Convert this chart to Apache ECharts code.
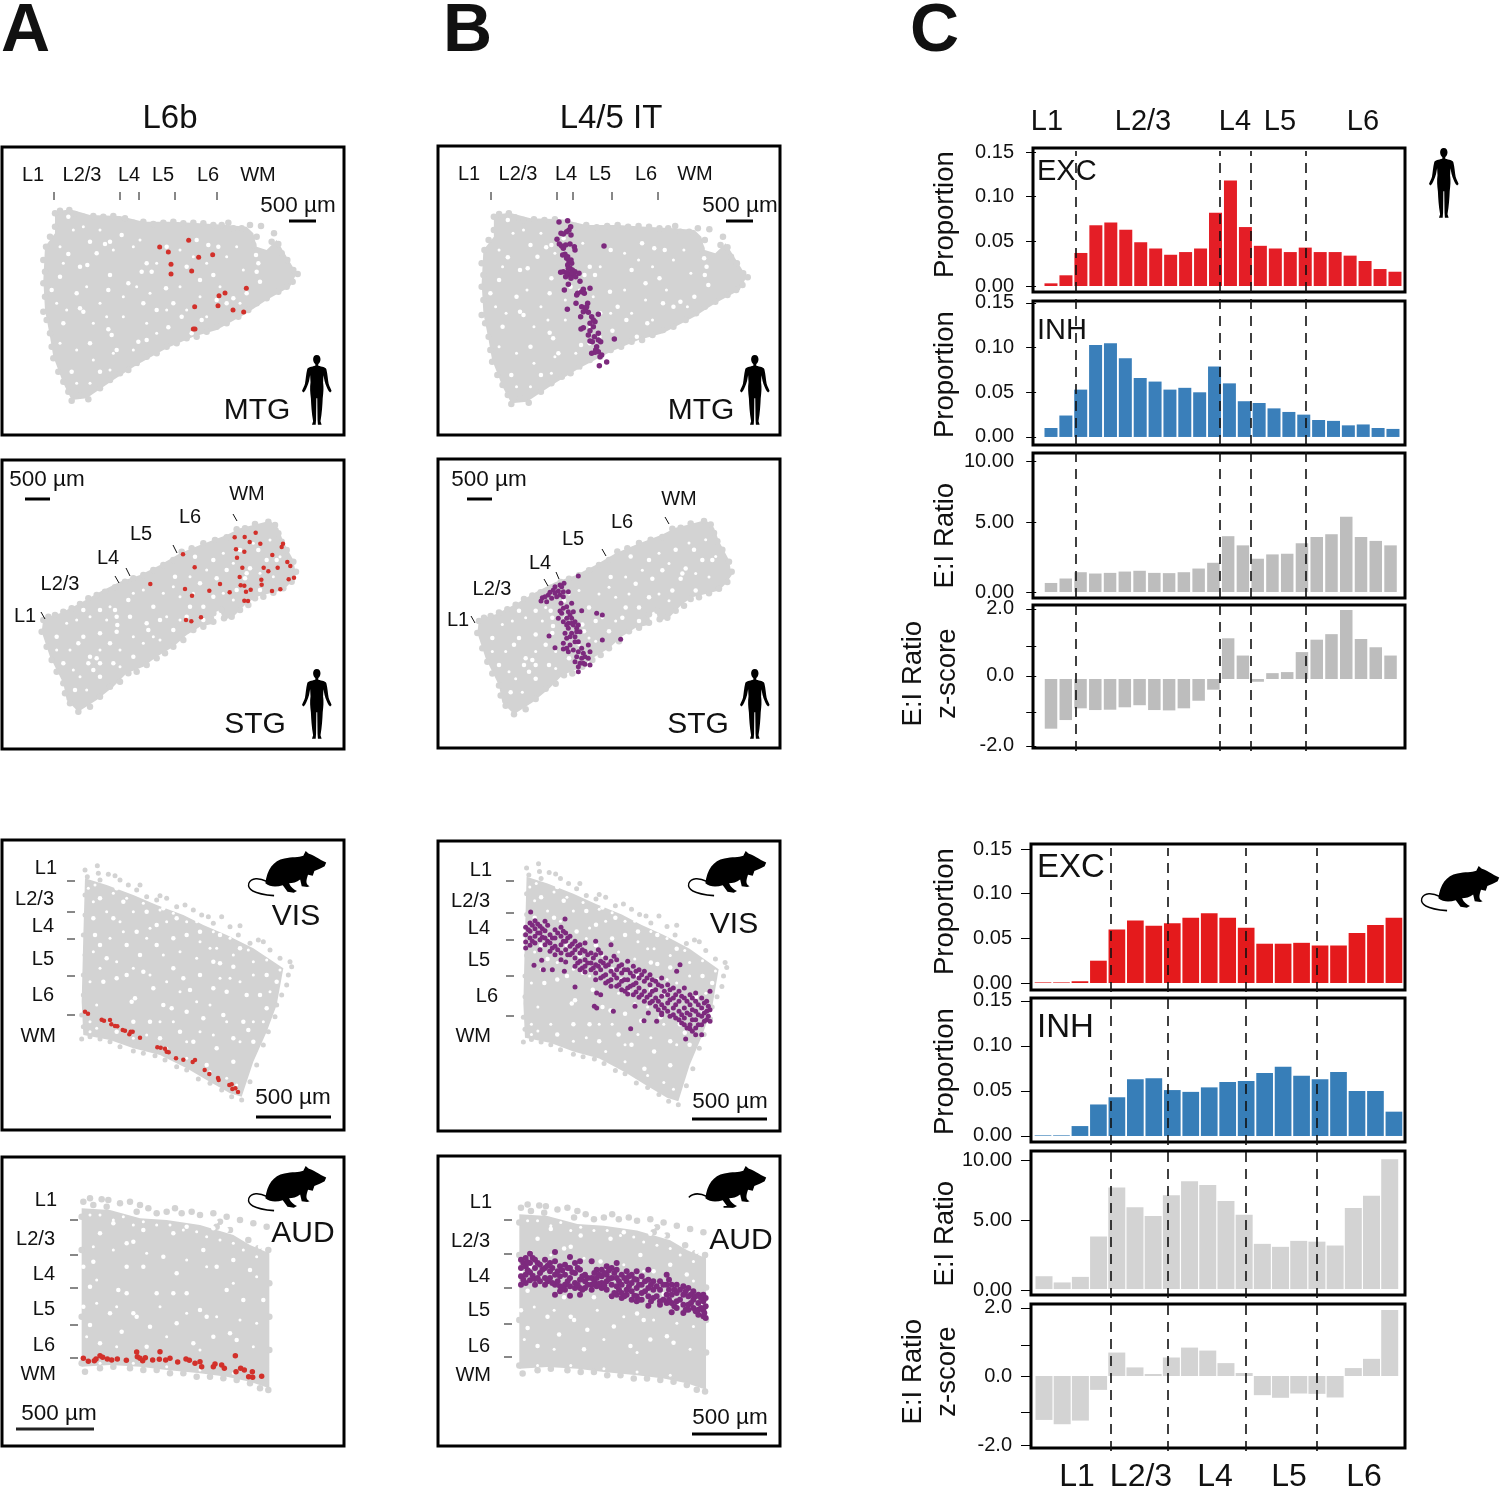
<!DOCTYPE html>
<html><head><meta charset="utf-8">
<style>html,body{margin:0;padding:0;background:#fff}#c{width:1500px;height:1487px}</style>
<script src="https://cdn.jsdelivr.net/npm/echarts@6/dist/echarts.min.js"></script>
</head><body><div id="c"></div>
<script>
// ---------- bar values ----------
const humanExc=[.003,.012,.037,.068,.071,.063,.049,.042,.035,.038,.042,.082,.118,.066,.045,.042,.038,.043,.038,.038,.034,.028,.019,.016];
const humanInh=[.010,.024,.053,.103,.105,.088,.066,.062,.053,.055,.050,.079,.060,.040,.038,.032,.028,.025,.019,.018,.013,.014,.010,.009];
const humanRatio=[.69,1.03,1.51,1.41,1.46,1.56,1.62,1.46,1.44,1.51,1.79,2.23,4.26,3.56,2.54,2.87,2.92,3.72,4.2,4.41,5.74,4.2,3.9,3.56];
const humanZ=[-1.44,-1.19,-.85,-.90,-.89,-.82,-.76,-.90,-.91,-.85,-.63,-.31,1.18,.68,-.08,.17,.20,.78,1.14,1.30,2.0,1.16,.92,.68];
const mouseExc=[.0007,.0007,.002,.025,.060,.070,.064,.067,.073,.078,.073,.062,.044,.044,.045,.042,.042,.056,.065,.073];
const mouseInh=[.0007,.0007,.011,.035,.043,.063,.064,.051,.049,.054,.060,.061,.070,.077,.067,.063,.071,.050,.050,.027];
const mouseRatio=[.99,.51,.94,4.05,7.84,6.31,5.65,7.25,8.32,8.04,6.79,5.73,3.49,3.26,3.72,3.66,3.36,6.26,7.2,10.03];
const mouseZ=[-1.33,-1.46,-1.35,-.42,.71,.26,.06,.56,.86,.77,.39,.09,-.58,-.66,-.53,-.54,-.65,.24,.52,2.0];
const humanBoundaries=[2.67,12.30,14.37,18.05];
const mouseBoundaries=[4.68,7.77,11.99,15.84];
// ---------- tick labels ----------
const propTicks=[0,.05,.1,.15];
const humanRatioTicks=[0,5.3,10], mouseRatioTicks=[-.08,5.33,9.96], ratioLabels=['0.00','5.00','10.00'];
const humanZTicks=[2.03,.96,.09,-.96,-1.94], mouseZTicks=[2.06,.94,0,-1.09,-2.09], zLabels=['2.0','','0.0','','-2.0'];
const layerNames=['L1','L2/3','L4','L5','L6','WM'];
const topLayers=['L1','L2/3','L4','L5','L6'];
// ---------- tissue shapes ----------
const mtgOutline=[165,365,210,358,270,375,360,378,430,395,520,395,600,400,680,405,740,410,760,430,770,470,800,480,830,450,860,500,890,550,870,590,800,630,740,670,650,720,580,740,500,775,410,825,340,870,260,925,215,930,190,880,160,800,150,740,135,660,130,570,135,470,165,430];
const mtgEdge=[165,370,180,362,208,360,225,372,250,380,280,378,310,380,340,378,375,385,400,398,430,395,460,402,490,398,520,395,550,400,580,398,610,400,640,405,665,405,685,398,700,415,725,415,750,405,783,408,770,440,760,465,822,430,815,455,835,462,845,490,862,510,880,540,893,552,878,575,860,590,835,605,800,625,770,640,745,660,715,680,680,700,650,710,620,725,590,740,560,745,530,760,500,770,470,790,440,800,410,820,385,840,360,850,330,870,300,895,265,928,240,915,215,932,205,905,190,875,175,845,160,805,155,770,150,730,140,690,130,665,135,620,130,580,135,545,130,510,138,470,150,440,165,410];
const mtgGaps=[775,520,770,545,780,575,768,495,270,455,315,462,330,455,205,492,262,525,240,530,155,600,240,655,250,665,325,718,335,735,365,435,440,520,455,545,425,545,498,595,640,555,655,470,625,465,415,755,440,750,505,712,575,730,605,690,330,555,325,600,385,580,215,845,300,845,410,835,545,680,470,660,700,625,680,640,600,570,560,530,230,610,190,700,270,760,350,780,180,560,430,640,520,640,740,610,650,630,290,490,500,470,590,450,205,380];
const mtgSpecks=[220,420,300,420,250,410,180,470,340,480,400,470,420,450,470,520,540,480,580,500,620,520,680,500,710,470,730,540,190,520,260,590,300,640,370,620,410,590,450,610,540,590,600,620,660,590,720,640,170,640,200,660,280,700,320,680,370,680,440,700,500,660,560,660,620,680,180,760,230,780,280,810,340,790,400,780,470,730,230,880,270,880,330,840];
const stgOutline=[130,505,180,490,240,460,300,425,360,395,420,375,480,345,540,310,600,285,680,255,720,235,760,225,810,212,835,235,850,275,880,330,888,375,870,400,850,420,810,430,770,440,740,460,700,500,670,510,660,480,640,490,645,520,600,530,560,555,520,590,470,620,430,650,380,670,340,710,290,750,235,785,200,750,190,700,170,660,150,620,125,545];
const stgEdge=[130,510,145,500,165,495,190,485,215,475,240,462,265,445,290,435,315,425,345,412,375,395,400,385,430,375,460,360,490,345,520,330,545,305,575,295,610,280,645,270,680,262,710,238,735,235,765,222,805,215,825,225,835,250,845,275,860,300,880,335,888,365,875,395,850,415,820,428,790,440,765,445,745,465,720,480,695,500,672,505,665,480,640,490,640,515,610,530,580,540,550,570,520,590,495,610,470,625,440,645,410,665,385,670,360,695,330,710,300,740,270,770,235,785,210,760,195,730,190,700,170,665,155,630,140,590,125,545];
const stgGaps=[350,500,352,525,345,480,350,545,270,620,265,640,290,625,330,580,300,480,250,480,235,580,300,550,445,540,440,520,520,540,525,380,585,320,640,330,600,400,650,385,680,360,740,370,735,385,750,355,775,300,710,420,640,440,610,470,570,470,300,680,340,640,400,620,190,640,460,470,480,510,720,300,800,330,830,330,780,420,610,510,560,500,250,560,225,720,170,560,390,500,385,450,300,640,280,660];
const stgSpecks=[200,520,230,510,270,500,320,510,170,600,210,600,300,600,360,600,400,560,460,560,500,500,540,440,490,430,520,410,570,380,620,360,670,310,700,340,760,280,810,270,840,320,780,370,820,380,700,450,670,430,580,430,540,510,480,570,430,580,360,650,240,680,260,720,220,660,330,470,400,430,430,420];
const visOutline=[255,130,320,150,400,180,470,210,550,240,610,270,680,300,760,340,850,400,830,510,800,590,760,680,725,785,690,775,620,735,560,700,480,660,400,640,330,615,250,600,245,500,250,300];
const visEdge=[255,105,262,125,292,92,295,115,300,135,325,118,345,122,360,135,385,150,420,150,410,165,440,185,480,182,500,190,470,195,530,215,555,210,580,225,605,240,625,245,665,245,640,265,690,275,720,272,715,300,750,325,775,315,790,320,810,345,840,370,870,380,875,395,865,420,860,450,845,480,830,510,825,545,805,590,790,630,770,690,750,740,725,795,695,785,665,765,630,745,595,732,560,705,530,695,495,675,465,662,430,655,400,648,360,635,330,620,300,612,270,605,245,612,250,575,245,540,250,480,250,420,255,360,250,300,255,240,255,180];
const visGaps=[340,250,410,290,470,270,490,220,530,250,320,370,430,410,350,430,310,440,405,490,395,500,490,510,515,520,450,560,570,465,680,470,730,560,745,585,640,380,660,385,700,395,560,300,470,330,380,330,285,300,520,310,600,420,780,480,640,460,610,550,700,610,650,640,540,590,580,620,620,690,700,680,760,620,800,420,830,440,720,340,660,300,600,290,440,230,370,200,300,190,350,160,280,250,300,330,380,420,460,460,550,430,520,400,670,540,740,480,800,520,400,560,350,590,480,610,560,530,420,360];
const visSpecks=[280,200,320,230,360,260,400,230,450,280,500,260,560,260,600,320,650,340,700,360,760,380,810,470,790,560,760,560,720,620,680,560,640,600,600,590,560,620,520,560,480,560,440,600,400,610,330,560,290,510,270,440,300,400,350,380,400,400,450,420,500,440,540,470,590,500,630,510,660,430,720,440,760,420,280,350,330,310,370,290,440,310,490,360,540,350,590,370,630,340,690,430,500,640,560,670,630,710,680,730,710,750,270,560,270,590,290,580,265,160,285,150,340,175,380,190,430,205,480,225,520,235,590,260,640,290,690,310,745,345,800,375,840,405];
const audOutline=[245,175,330,180,420,205,500,210,600,225,700,255,750,285,808,310,808,715,750,695,680,680,600,670,500,660,420,650,330,645,245,650];
const audEdge=[250,155,270,145,280,165,305,148,325,150,320,170,360,160,390,155,420,165,410,185,445,175,470,190,500,185,525,175,545,190,575,185,600,195,640,190,680,200,720,210,760,220,800,230,660,215,690,240,650,230,745,270,775,295,805,300,808,400,808,500,808,600,805,720,780,715,750,700,710,690,670,685,630,680,590,680,550,670,510,670,470,660,430,660,390,655,340,650,300,655,255,665,245,640,245,500,245,300,245,200];
const audGaps=[380,280,400,275,490,320,380,350,280,335,250,350,270,410,355,420,380,430,430,350,470,430,520,430,560,430,650,350,680,420,730,450,400,490,410,500,270,525,365,545,450,530,530,520,690,550,710,570,640,560,580,580,300,580,440,590,610,300,520,250,560,230,640,235,680,240,780,290,600,480,750,360,300,250,340,220,430,240,790,450,250,470,330,490,700,330,530,370,620,500];
const audSpecks=[270,195,300,195,340,210,370,200,400,225,430,215,470,225,510,225,550,240,590,245,620,260,660,270,700,280,730,300,770,320,650,215,670,225,690,225,710,235,280,290,340,300,440,310,560,330,620,350,700,400,770,380,290,460,350,470,480,470,560,490,650,500,720,510,770,520,260,560,350,590,500,560,600,600,760,590,300,640,400,640,500,650,600,660,700,670,290,390];
// ---------- labelled cells ----------
const mtgL6b=[479,471,505,486,566,451,638,494,596,502,513,523,513,552,575,543,739,595,675,609,657,617,654,647,584,650,699,660,731,666,580,717,585,717];
const stgL6b=[549,313,584,352,451,402,555,417,576,437,628,422,660,402,689,427,558,510,574,514,603,502,704,262,734,261,767,248,749,276,781,281,849,281,845,291,708,298,733,305,817,315,711,323,862,336,871,348,727,353,791,353,833,353,805,364,719,381,882,383,866,388,784,389,785,404,722,406,733,407,752,419,738,425,816,423,841,418,733,452,744,453];
const visL6b=[255,530,264,536,305,554,312,557,330,555,334,568,345,573,352,574,368,585,375,587,392,590,388,598,398,590,420,608,472,637,482,638,495,641,500,650,506,652,528,670,550,674,578,681,585,675,614,705,628,717,654,729,656,735,688,750,695,748,697,762,706,760,714,771];
const audL6b=[250,625,265,634,283,632,288,627,300,617,308,622,322,627,335,630,352,627,379,631,410,606,412,620,420,625,428,632,436,623,458,630,478,628,480,605,497,630,510,625,533,636,558,627,568,631,585,640,600,635,605,650,640,650,645,642,665,645,673,655,706,617,708,665,722,655,733,660,746,680,757,665,758,682,785,679];
const mtgIT=[372,246,398,242,407,260,402,270,395,275,378,280,385,282,408,285,366,298,373,312,380,318,392,315,405,312,418,320,420,330,385,325,390,343,383,345,395,355,402,365,398,375,410,370,405,385,412,390,420,395,432,400,415,405,400,405,377,397,392,410,408,415,435,424,400,433,388,450,445,448,465,445,440,455,428,460,425,465,423,490,440,500,458,490,452,505,397,508,460,517,490,523,437,530,470,530,480,545,465,550,445,563,438,567,465,572,490,580,478,590,497,605,465,603,538,597,485,620,490,635,470,640,480,637,495,650,515,666,493,677,507,318,398,350,408,360,400,385,408,400,422,410,385,395,395,398,448,460,455,500,445,515,475,540,475,560,460,585,472,605,490,600,482,630,500,645];
const stgIT=[430,363,387,385,375,390,360,395,355,405,370,408,385,410,400,410,340,420,322,428,318,438,335,440,350,430,365,425,385,425,378,445,385,460,400,470,415,470,380,475,370,490,395,490,410,490,440,467,485,475,502,480,385,500,400,505,415,510,400,520,425,520,390,535,410,535,435,530,342,543,395,550,420,545,385,565,405,570,430,560,460,570,502,555,557,553,360,578,395,580,415,585,430,590,445,595,465,590,425,605,440,610,460,610,420,620,435,625,450,628,465,630,430,650,385,582,410,445,395,455,405,480,375,468,420,500,430,510,405,545,420,560,400,590,440,580,450,605,445,625,430,635,380,395,345,412,330,425,360,415,375,420,425,530,410,505,395,510];
const visITColumns=[[272,[268,290,312,330]],[285,[255,280,300,322]],[300,[248,272,295,315]],[315,[265,285,305,335]],[330,[250,278,300,320]],[345,[290,315,340]],[360,[275,300,325,350]],[378,[268,295,320,345,365]],[392,[285,310,335,372]],[405,[295,325,350]],[420,[310,335,360,385]],[435,[320,345,370,395]],[450,[315,340,365,385,402]],[468,[345,375,395]],[482,[310,350,380,405,425]],[497,[345,370,395,420]],[512,[360,385,410,435]],[528,[320,370,400,425,445]],[545,[365,395,420,445]],[560,[380,405,430,455]],[578,[370,395,425,450,468]],[595,[385,415,440,470]],[612,[395,420,450,478]],[628,[400,430,460,490]],[645,[410,440,470,495]],[662,[430,455,480,505]],[680,[420,445,475,500,525]],[698,[440,470,495,520]],[715,[450,480,510,530]],[732,[460,490,520,545]],[748,[450,480,510,540,560]],[765,[470,500,530,560,572]],[782,[465,490,520,545,570]],[800,[480,510,535,560,590]],[815,[490,520,545]],[825,[460,515,550]]];
const visITStray=[287,222,390,243,297,382,320,367,325,395,352,395,388,400,420,447,485,465,497,470,478,505,485,510,535,520,627,548,665,550,587,572,752,603,735,380,725,400,600,505,640,525,680,530,782,590];
const visITMore=[280,275,292,262,292,310,308,285,308,258,322,272,322,298,338,262,338,310,352,300,352,330,368,285,368,335,385,280,385,310,398,300,398,350,412,318,412,345,428,325,428,375,442,335,442,390,458,350,458,375,475,360,475,390,490,335,490,385,505,375,505,415,520,380,520,430,537,355,537,410,552,385,552,440,568,395,568,425,570,460,586,405,586,445,603,400,603,435,603,462,620,410,620,470,636,420,636,478,652,425,652,460,652,490,670,440,670,490,670,515,688,460,688,510,705,455,705,485,705,535,722,470,722,500,722,540,740,475,740,530,740,555,756,490,756,525,756,570,772,480,772,515,772,545,772,580,790,500,790,530,790,560,808,495,808,525,808,550,820,505,820,535];
const audITColumns=[[258,[320,345,370,395]],[272,[315,340,365,390]],[285,[302,330,358,382]],[300,[320,345,378,395]],[315,[335,360,385]],[330,[320,345,375,395]],[345,[330,355,375]],[360,[297,325,365,395,425]],[375,[340,370,400,415]],[390,[335,365,395,410]],[405,[312,345,375,400,428]],[420,[330,360,390,405]],[435,[325,350,380,405,425]],[450,[365,385,405]],[470,[325,375,395,410]],[485,[350,375,400]],[500,[350,370,390,405]],[515,[340,365,385,410]],[530,[345,375,395,430]],[545,[330,350,375,400,425]],[560,[365,395,420,435]],[575,[355,385,410,425]],[590,[365,390,415,440]],[605,[355,380,405,430,445]],[620,[370,395,420,440]],[640,[350,380,405,430,458]],[655,[385,410,435]],[675,[385,410,445,455]],[695,[365,395,425,450]],[710,[395,425,450,478]],[725,[395,420,445,465]],[745,[400,425,455,480]],[760,[405,430,455,470]],[775,[415,440,465]],[790,[425,450,470,485]],[805,[425,445,470,490]],[812,[435,460,495]]];
const audITMore=[265,330,265,380,278,328,278,352,293,315,293,368,308,330,308,375,322,350,338,338,338,385,352,345,352,390,368,355,368,385,382,352,382,405,398,345,398,385,412,358,428,345,428,395,442,370,442,410,458,375,458,395,478,360,478,388,492,365,492,392,508,360,508,398,522,352,522,378,538,360,538,420,552,385,552,410,568,375,568,430,582,370,582,400,598,378,598,428,612,395,612,440,630,385,630,415,648,395,648,445,665,400,665,430,685,395,685,440,702,380,702,410,702,440,718,410,718,460,735,410,735,440,752,415,752,470,768,425,768,450,782,430,782,475,798,435,798,465,808,480];

const FONT='"Liberation Sans",Arial,sans-serif';
const GRAY='#d3d3d3',RED='#d2302a',PURPLE='#7d2a7e';
const pairs=a=>{const o=[];for(let i=0;i<a.length;i+=2)o.push([a[i],a[i+1]]);return o};
const cols=c=>c.flatMap(([x,ys])=>ys.map(y=>[x,y]));
const grids=[],xAxes=[],yAxes=[],series=[],graphics=[];

function addGrid(box,xr,yr,frame,inverse){
  const i=grids.length;
  grids.push({left:box[0],top:box[1],width:box[2]-box[0],height:box[3]-box[1],show:frame,borderWidth:3,borderColor:'#000',backgroundColor:'transparent',containLabel:false});
  xAxes.push({gridIndex:i,type:'value',min:xr[0],max:xr[1],show:false});
  yAxes.push({gridIndex:i,type:'value',min:yr[0],max:yr[1],inverse:!!inverse,show:false});
  return i;
}
function dots(i,data,size,color,z){
  series.push({type:'scatter',xAxisIndex:i,yAxisIndex:i,data,symbolSize:size,itemStyle:{color,opacity:1},silent:true,z});
}
function tissue(i,shape,size){
  const o=pairs(shape.outline);
  series.push({type:'custom',coordinateSystem:'cartesian2d',xAxisIndex:i,yAxisIndex:i,data:o,encode:{x:0,y:1},silent:true,z:2,
    renderItem:(p,api)=>{if(p.dataIndex!==0)return;return {type:'polygon',shape:{points:o.map(q=>api.coord(q))},style:{fill:GRAY}}}});
  dots(i,pairs(shape.edge),size,GRAY,3);
  dots(i,pairs(shape.gaps),4.5,'#fff',4);
  dots(i,pairs(shape.specks),3,'#fff',4);
}
const cells=(i,data,color,size)=>dots(i,data,size,color,6);
const MTG={outline:mtgOutline,edge:mtgEdge,gaps:mtgGaps,specks:mtgSpecks};
const STG={outline:stgOutline,edge:stgEdge,gaps:stgGaps,specks:stgSpecks};
const VIS={outline:visOutline,edge:visEdge,gaps:visGaps,specks:visSpecks};
const AUD={outline:audOutline,edge:audEdge,gaps:audGaps,specks:audSpecks};

// column A
tissue(addGrid([2,147,344,435],[6,1032],[171,1035],true,true),MTG,6.5); cells(grids.length-1,pairs(mtgL6b),RED,5);
tissue(addGrid([2,460,344,749],[6,1032],[30,897],true,true),STG,6.5); cells(grids.length-1,pairs(stgL6b),RED,4.5);
tissue(addGrid([2,840,344,1130],[6,1032],[15,885],true,true),VIS,5); cells(grids.length-1,pairs(visL6b),RED,4.5);
tissue(addGrid([2,1157,344,1446],[6,1032],[21,888],true,true),AUD,6.5); cells(grids.length-1,pairs(audL6b),RED,5.5);
// column B: the same sections, slightly rescaled
tissue(addGrid([438,146,780,435],[4.8,985.6],[158,1025],true,true),MTG,6.5);
cells(addGrid([438,146,780,435],[9,1035],[18,885],false,true),pairs(mtgIT),PURPLE,5.5);
tissue(addGrid([438,459,780,748],[7,1033],[32,884.6],true,true),STG,6.5);
cells(addGrid([438,459,780,748],[9,1035],[12,879],false,true),pairs(stgIT),PURPLE,5);
tissue(addGrid([438,841,780,1131],[-19.4,1040],[26,871.6],true,true),VIS,5);
cells(addGrid([438,841,780,1131],[9,1035],[9,879],false,true),cols(visITColumns).concat(pairs(visITStray),pairs(visITMore)),PURPLE,5);
tissue(addGrid([438,1156,780,1446],[-.2,1031],[-4.6,887.7],true,true),AUD,6.5);
cells(addGrid([438,1156,780,1446],[9,1035],[9,879],false,true),cols(audITColumns).concat(pairs(audITMore)),PURPLE,6);

// column C
function barPanel(left,right,top,bottom,xr,yr,vals,color,w,ticks,labelTicks,fmt){
  const i=grids.length;
  grids.push({left,top,width:right-left,height:bottom-top,show:true,borderWidth:3,borderColor:'#000',backgroundColor:'transparent',containLabel:false});
  xAxes.push({gridIndex:i,type:'value',min:xr[0],max:xr[1],show:false});
  yAxes.push({gridIndex:i,type:'value',min:yr[0],max:yr[1],splitLine:{show:false},axisLine:{show:false},
    axisTick:{show:true,length:10,lineStyle:{color:'#000',width:1},customValues:ticks},
    axisLabel:{margin:19,fontSize:20,fontFamily:FONT,color:'#111',customValues:labelTicks,hideOverlap:false,formatter:fmt}});
  series.push({type:'bar',xAxisIndex:i,yAxisIndex:i,data:vals.map((v,k)=>[k+1,v]),barWidth:w,itemStyle:{color},silent:true,z:3});
}
const fp=v=>v.toFixed(2);
const fr=t=>v=>ratioLabels[t.indexOf(v)];
const fz=t=>v=>zLabels[t.indexOf(v)];
const zShown=t=>[t[0],t[2],t[4]];
barPanel(1033,1405,148,292,[-.203,24.67],[-.0067,.1545],humanExc,'#e41e26',13,propTicks,propTicks,fp);
barPanel(1033,1405,301,445,[-.21,24.81],[-.009,.1522],humanInh,'#3a7fba',13,propTicks,propTicks,fp);
barPanel(1033,1405,453,598,[-.22,24.98],[-.458,10.61],humanRatio,'#bdbdbd',12.5,humanRatioTicks,humanRatioTicks,fr(humanRatioTicks));
barPanel(1033,1405,605,748,[-.22,24.98],[-2,2.145],humanZ,'#bdbdbd',12.5,humanZTicks,zShown(humanZTicks),fz(humanZTicks));
barPanel(1031,1405,844,990,[.35,20.6],[-.0078,.1556],mouseExc,'#e41a1c',16.7,propTicks,propTicks,fp);
barPanel(1031,1405,998,1142,[.35,20.6],[-.0067,.1533],mouseInh,'#377eb8',16.7,propTicks,propTicks,fp);
barPanel(1031,1405,1151,1295,[.286,20.84],[-.46,10.66],mouseRatio,'#d3d3d3',17,mouseRatioTicks,mouseRatioTicks,fr(mouseRatioTicks));
barPanel(1031,1405,1304,1448,[.286,20.84],[-2.18,2.18],mouseZ,'#d3d3d3',17,mouseZTicks,zShown(mouseZTicks),fz(mouseZTicks));
function dashes(left,right,top,bottom,xr,vals){
  const i=addGrid([left,top,right,bottom],xr,[0,1],false);
  series.push({type:'scatter',xAxisIndex:i,yAxisIndex:i,data:[],silent:true,z:8,
    markLine:{silent:true,symbol:'none',animation:false,label:{show:false},lineStyle:{color:'#111',width:1.6,type:[10,7]},data:vals.map(v=>({xAxis:v}))}});
}
dashes(1033,1405,151,751,[-.203,24.67],humanBoundaries);
dashes(1031,1405,848,1451,[.35,20.6],mouseBoundaries);

// ---------- text, ticks, scale bars ----------
function T(x,y,text,size,o={}){
  graphics.push({type:'text',x,y:y+size*.06,z:50,silent:true,rotation:o.rot||0,style:{text,fontSize:size,fontFamily:FONT,fontWeight:o.bold?'bold':'normal',fill:o.fill||'#111',textAlign:o.align||'center',textVerticalAlign:'middle'}});
}
function L(x1,y1,x2,y2,w,c){
  graphics.push({type:'line',z:50,silent:true,shape:{x1,y1,x2,y2},style:{stroke:c||'#111',lineWidth:w||1}});
}
T(1,28,'A',68,{bold:true,align:'left'});T(443,28,'B',68,{bold:true,align:'left'});T(910,28,'C',68,{bold:true,align:'left'});
T(170,117,'L6b',33);T(611,117,'L4/5 IT',33);
// A1
[33,82,129,163,208,258].forEach((x,i)=>T(x,174,layerNames[i],20));
[54,120,139,175,217].forEach(x=>L(x,192,x,200,1));
T(298,204,'500 µm',22.5);L(289,221,316,221,3,'#000');T(257,409,'MTG',30);
// B1
[469,518,566,600,646,695].forEach((x,i)=>T(x,173,layerNames[i],20));
[491,557,573,612,658].forEach(x=>L(x,192,x,200,1));
T(740,204,'500 µm',22.5);L(726,221,753,221,3,'#000');T(701,409,'MTG',30);
// A2
[[25,615],[60,583],[108,557],[141,533],[190,516],[247,493]].forEach((p,i)=>T(p[0],p[1],layerNames[i],20));
[[41,612,45,619],[115,576,119,583],[126,568,130,576],[173,545,177,553],[233,514,237,521]].forEach(s=>L(s[0],s[1],s[2],s[3],1));
T(47,478,'500 µm',22.5);L(25,499,50,499,3,'#000');T(255,723,'STG',30);
// B2
[[458,619],[492,588],[540,562],[573,538],[622,521],[679,498]].forEach((p,i)=>T(p[0],p[1],layerNames[i],20));
[[471,616,475,623],[544,579,548,586],[556,572,559,579],[602,549,606,556],[665,517,669,524]].forEach(s=>L(s[0],s[1],s[2],s[3],1));
T(489,478,'500 µm',22.5);L(467,499,492,499,3,'#000');T(698,723,'STG',30);
// A3
[[57,867],[54,898],[54,925],[54,958],[54,994],[56,1035]].forEach((p,i)=>T(p[0],p[1],layerNames[i],20,{align:'right'}));
[881,912,939,976,1015].forEach(y=>L(67,y,75,y,1));
T(293,1096,'500 µm',22.5);L(256,1117,331,1117,3,'#000');T(296,915,'VIS',30);
// B3
[[492,869],[490,900],[490,927],[490,959],[498,995],[491,1035]].forEach((p,i)=>T(p[0],p[1],layerNames[i],20,{align:'right'}));
[881,913,940,976,1016].forEach(y=>L(506,y,514,y,1));
T(730,1100,'500 µm',22.5);L(692,1119,767,1119,3,'#000');T(734,923,'VIS',30);
// A4
[[57,1199],[55,1238],[55,1273],[55,1308],[55,1344],[56,1373]].forEach((p,i)=>T(p[0],p[1],layerNames[i],20,{align:'right'}));
[1220,1255,1288,1325,1358].forEach(y=>L(70,y,78,y,1));
T(59,1412,'500 µm',22.5);L(16,1429,94,1429,3,'#222');T(303,1232,'AUD',30);
// B4
[[492,1201],[490,1240],[490,1275],[490,1309],[490,1345],[491,1374]].forEach((p,i)=>T(p[0],p[1],layerNames[i],20,{align:'right'}));
[1220,1254,1288,1324,1357].forEach(y=>L(504,y,512,y,1));
T(730,1416,'500 µm',22.5);L(692,1434,767,1434,3,'#000');T(741,1239,'AUD',30);
// C
[1047,1143,1235,1280,1363].forEach((x,i)=>T(x,120,topLayers[i],29));
[1077,1141,1215,1289,1364].forEach((x,i)=>T(x,1475,topLayers[i],32));
T(1037,170,'EXC',29,{align:'left'});T(1037,329,'INH',29,{align:'left'});
T(1037,866,'EXC',33,{align:'left'});T(1037,1026,'INH',33,{align:'left'});
const R=Math.PI/2;
[[945,213],[945,373],[945,910],[945,1070]].forEach(p=>T(p[0],p[1],'Proportion',27.5,{rot:R}));
[[945,534],[945,1232],[913,672],[913,1370]].forEach(p=>T(p[0],p[1],'E:I Ratio',27.5,{rot:R}));
[[947,672],[947,1370]].forEach(p=>T(p[0],p[1],'z-score',27.5,{rot:R}));

// ---------- silhouettes ----------
const humanPath='M20 0C23.5 0 25 3 25 6C25 9.5 23 12 22 12.5L22 15C27 16.5 32 16.5 33 20C34.5 26 35 34 36 40C37 44 39 47 40 50L38 52L36 50C34 46 32 42 30.5 36L29 28L28.5 38C29.5 46 29 52 28 60C27.5 70 27 80 25 92L26.5 97L21.5 97L21 90L20.6 60L19.4 60L19 90L18.5 97L13.5 97L15 92C13 80 12.5 70 12 60C11 52 10.5 46 11.5 38L11 28L9.5 36C8 42 6 46 4 50L2 52L0 50C1 47 3 44 4 40C5 34 5.5 26 7 20C8 16.5 13 16.5 18 15L18 12.5C17 12 15 9.5 15 6C15 3 16.5 0 20 0Z';
const mouseBody='M22 34C24 20 32 10 46 8C56 6 64 7 70 5L73 0L77 3C82 4 90 9 99 12L97 16C92 18 88 20 84 21L82 26L76 25C74 30 72 35 78 37L75 38L68 37L66 30C62 33 56 34 52 34C54 38 58 41 62 42L58 44L50 43L44 36C36 38 28 38 22 34Z';
const mouseTail='M24 32C14 28 4 28 1 34C-1 40 6 45 33 47';
const mouseTailShort='M24 32C14 28 6 29 1 33M45 43L57 43';
const humanSpots=[[302,355],[302,669],[740,355],[740,669],[1429,148]];
const mouseSpots=[[248,851,0],[248,1166,0],[688,851,0],[688,1166,1],[1421,866,0]];
const page=addGrid([0,0,1500,1487],[0,1500],[0,1487],false,true);
series.push({type:'custom',coordinateSystem:'cartesian2d',xAxisIndex:page,yAxisIndex:page,data:humanSpots,encode:{x:0,y:1},silent:true,z:20,clip:false,
  renderItem:(p,api)=>{const c=api.coord([api.value(0),api.value(1)]);
    return {type:'path',x:c[0],y:c[1],scaleX:.74,scaleY:.72,shape:{pathData:humanPath},style:{fill:'#000'}}}});
series.push({type:'custom',coordinateSystem:'cartesian2d',xAxisIndex:page,yAxisIndex:page,data:mouseSpots,encode:{x:0,y:1},silent:true,z:20,clip:false,
  renderItem:(p,api)=>{const c=api.coord([api.value(0),api.value(1)]);
    return {type:'group',children:[
      {type:'path',x:c[0],y:c[1],scaleX:.79,scaleY:.95,shape:{pathData:mouseBody},style:{fill:'#000'}},
      {type:'path',x:c[0],y:c[1],scaleX:.79,scaleY:.95,shape:{pathData:api.value(2)?mouseTailShort:mouseTail},style:{fill:null,stroke:'#000',lineWidth:1.7}}
    ]}}});

const chart=echarts.init(document.getElementById('c'),null,{renderer:'canvas'});
chart.setOption({animation:false,backgroundColor:'#fff',grid:grids,xAxis:xAxes,yAxis:yAxes,series,graphic:{elements:graphics}});
</script></body></html>
